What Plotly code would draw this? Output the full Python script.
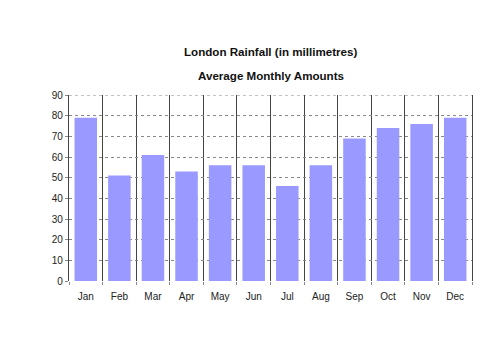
import plotly.graph_objects as go

months = ["Jan", "Feb", "Mar", "Apr", "May", "Jun", "Jul", "Aug", "Sep", "Oct", "Nov", "Dec"]
rainfall = [79, 51, 61, 53, 56, 56, 46, 56, 69, 74, 76, 79]
title_line1 = "London Rainfall (in millimetres)"
title_line2 = "Average Monthly Amounts"
y_max = 90

fig = go.Figure(go.Bar(
    x=months, y=rainfall,
    marker=dict(color="#9999ff", line=dict(width=0)),
    width=0.67,
))

fig.update_layout(
    width=500, height=353,
    margin=dict(l=69, r=28, t=95, b=72),
    paper_bgcolor="white", plot_bgcolor="white",
    showlegend=False,
    font=dict(family="Liberation Sans, Arial, sans-serif", size=10, color="#222"),
    annotations=[
        dict(text="<b>%s</b>" % title_line1, xref="paper", yref="paper", x=0.5, y=1.232,
             xanchor="center", yanchor="middle", showarrow=False,
             font=dict(size=11.6, color="#111")),
        dict(text="<b>%s</b>" % title_line2, xref="paper", yref="paper", x=0.5, y=1.103,
             xanchor="center", yanchor="middle", showarrow=False,
             font=dict(size=11.6, color="#111")),
    ],
    shapes=[
        dict(type="line", xref="paper", yref="y", x0=0, x1=1, y0=y_max, y1=y_max,
             line=dict(color="#888", width=1, dash="dot"), layer="below"),
    ],
)

fig.update_xaxes(
    type="category", tickson="boundaries",
    showgrid=True, gridcolor="#444", gridwidth=1.3,
    ticks="outside", ticklen=3, tickcolor="#888",
    showline=False, zeroline=False,
    range=[-0.5, 11.5],
    tickfont=dict(size=10),
    ticklabelstandoff=8,
)
fig.update_yaxes(
    range=[0, y_max], dtick=10,
    showgrid=True, gridcolor="#888", griddash="dot", gridwidth=1,
    zeroline=False,
    showline=True, mirror=True, linecolor="#444", linewidth=1.3,
    ticks="outside", ticklen=3, tickcolor="#888",
    tickfont=dict(size=10),
)

fig.write_html("out.html")
